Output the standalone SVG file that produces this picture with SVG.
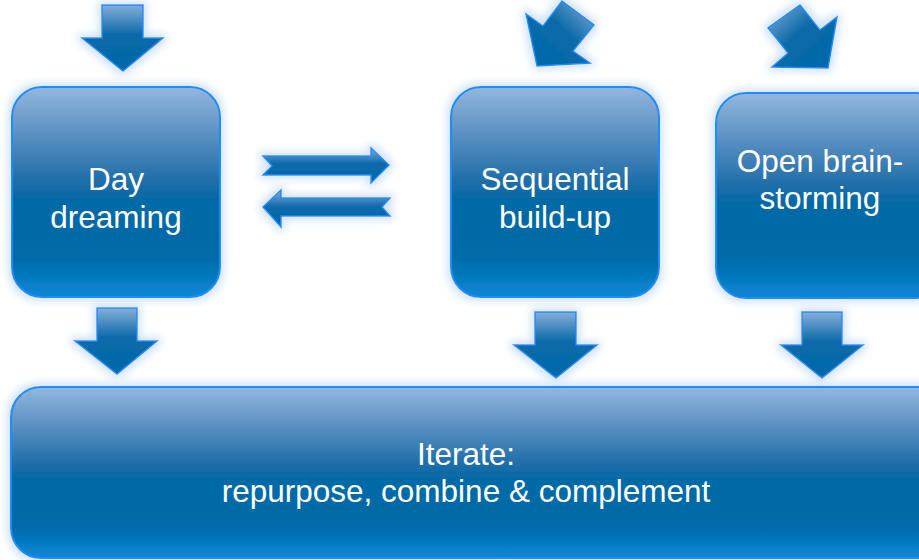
<svg xmlns="http://www.w3.org/2000/svg" width="919" height="560" viewBox="0 0 919 560">
  <defs>
    <linearGradient id="boxFill" x1="0" y1="0" x2="0" y2="1">
      <stop offset="0" stop-color="#92b7de"/>
      <stop offset="0.22" stop-color="#5c91c3"/>
      <stop offset="0.45" stop-color="#1f6da8"/>
      <stop offset="0.55" stop-color="#006aa6"/>
      <stop offset="0.82" stop-color="#016ca9"/>
      <stop offset="1" stop-color="#0a88d8"/>
    </linearGradient>
    <linearGradient id="arrowFill" x1="0" y1="0" x2="0" y2="1">
      <stop offset="0" stop-color="#86aed8"/>
      <stop offset="0.45" stop-color="#0a6aa8"/>
      <stop offset="1" stop-color="#0068a8"/>
    </linearGradient>
    <linearGradient id="arrowFillDiagL" x1="1" y1="0" x2="0" y2="1">
      <stop offset="0" stop-color="#86aed8"/>
      <stop offset="0.45" stop-color="#0a6aa8"/>
      <stop offset="1" stop-color="#0068a8"/>
    </linearGradient>
    <linearGradient id="arrowFillDiagR" x1="0" y1="0" x2="1" y2="1">
      <stop offset="0" stop-color="#86aed8"/>
      <stop offset="0.45" stop-color="#0a6aa8"/>
      <stop offset="1" stop-color="#0068a8"/>
    </linearGradient>
    <filter id="glow" x="-20%" y="-20%" width="140%" height="140%">
      <feMorphology in="SourceAlpha" operator="dilate" radius="3" result="grown"/>
      <feGaussianBlur in="grown" stdDeviation="4" result="soft"/>
      <feFlood flood-color="#cfe2f7"/>
      <feComposite in2="soft" operator="in" result="halo"/>
      <feMerge>
        <feMergeNode in="halo"/>
        <feMergeNode in="SourceGraphic"/>
      </feMerge>
    </filter>
  </defs>
  <style>
    .box { fill: url(#boxFill); stroke: #1a8cff; stroke-width: 2; filter: url(#glow); }
    .arrow { fill: url(#arrowFill); stroke: #1a8cff; stroke-width: 1.5; stroke-linejoin: miter; filter: url(#glow); }
    .label { font-family: "Liberation Sans", Arial, sans-serif; font-size: 31.5px; fill: #ffffff; text-anchor: middle; }
  </style>

  <rect width="919" height="560" fill="#ffffff"/>

  <!-- connectors -->
  <g id="connectors">
    <!-- incoming arrows from above -->
    <polygon class="arrow" points="102,5 143,5 143,38 163,38 123,71 82,38 102,38"/>
    <polygon class="arrow" style="fill:url(#arrowFillDiagL)" points="562,1 594,25 573,51 590,63 537,66 526,14 543,26"/>
    <polygon class="arrow" style="fill:url(#arrowFillDiagR)" points="800,5 820,30 837,17 828,68 772,67 788,53 768,28"/>
    <!-- two-way exchange -->
    <polygon class="arrow" points="263,156 371,156 371,148 389,165 371,183 371,175 263,175 272,166"/>
    <polygon class="arrow" points="390,198 281,198 281,190 263,207 281,227 281,216 390,216 382,207"/>
    <!-- arrows into the iteration stage -->
    <polygon class="arrow" points="97,308 137,308 137,341 157,341 117,374 75,341 97,341"/>
    <polygon class="arrow" points="535,312 576,312 576,345 597,345 556,378 514,345 535,345"/>
    <polygon class="arrow" points="802,312 842,312 842,345 863,345 822,378 781,345 802,345"/>
  </g>

  <g id="day-dreaming">
    <rect class="box" x="12" y="87" width="208" height="210" rx="30" ry="30"/>
    <text class="label" x="116" y="190">Day</text>
    <text class="label" x="116" y="228">dreaming</text>
  </g>

  <g id="sequential-build-up">
    <rect class="box" x="451" y="87" width="208" height="210" rx="30" ry="30"/>
    <text class="label" x="555" y="190">Sequential</text>
    <text class="label" x="555" y="228">build-up</text>
  </g>

  <g id="open-brainstorming">
    <rect class="box" x="716" y="93" width="230" height="205" rx="30" ry="30"/>
    <text class="label" x="820" y="172">Open brain-</text>
    <text class="label" x="820" y="209">storming</text>
  </g>

  <g id="iterate">
    <rect class="box" x="11" y="387" width="940" height="171" rx="30" ry="30"/>
    <text class="label" x="466" y="465">Iterate:</text>
    <text class="label" x="466" y="502">repurpose, combine &amp; complement</text>
  </g>
</svg>
